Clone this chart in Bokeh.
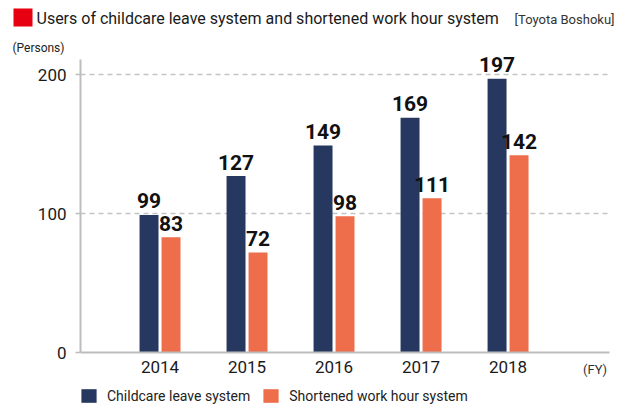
from bokeh.plotting import figure
from bokeh.layouts import column
from bokeh.models import (Range1d, FixedTicker, LinearAxis, Legend, LegendItem,
                          ColumnDataSource)
from bokeh.core.properties import value
from bokeh.embed import file_html
from bokeh.resources import INLINE

years = ["2014", "2015", "2016", "2017", "2018"]
childcare = [99, 127, 149, 169, 197]
shortened = [83, 72, 98, 111, 142]
y_ticks = [0, 100, 200]
series_names = ["Childcare leave system", "Shortened work hour system"]
title_text = "Users of childcare leave system and shortened work hour system"
subtitle_text = "[Toyota Boshoku]"
unit_text = "(Persons)"
fy_text = "(FY)"

FONT = "Roboto"
NAVY = "#26385f"
ORANGE = "#ee6d4a"
RED = "#e60012"
GRAY = "#bdbdbd"
TXT = "#1a1a1a"
W = 630

# ---------------- header (title row) ----------------
head = figure(width=W, height=34, output_backend="svg", toolbar_location=None,
              x_range=Range1d(0, W), y_range=Range1d(34, 0),
              x_axis_type=None, y_axis_type=None, min_border=0, frame_align=False)
head.outline_line_color = None
head.grid.visible = False
head.quad(left=[13], right=[32], top=[8], bottom=[26], fill_color=RED, line_color=None)
head.text(x=[36], y=[18], text=[title_text], text_font=value(FONT), text_font_size="16px",
          text_color=TXT, text_baseline="middle", text_align="left")
head.text(x=[614], y=[18.5], text=[subtitle_text], text_font=value(FONT), text_font_size="13px",
          text_color="#333333", text_baseline="middle", text_align="right")

# ---------------- main chart ----------------
xs = list(range(len(years)))
off = 0.1264
bw = 0.218
src = ColumnDataSource(dict(
    x1=[x - off for x in xs], x2=[x + off for x in xs],
    c=childcare, s=shortened,
    cl=[str(v) for v in childcare], sl=[str(v) for v in shortened],
))

p = figure(width=W, height=350, output_backend="svg", toolbar_location=None,
           x_range=Range1d(-0.914, 5.166), y_range=Range1d(0, 228.9),
           min_border_left=80, min_border_right=21, min_border_top=0, min_border_bottom=32,
           frame_align=False)
p.outline_line_color = None

r1 = p.vbar(x="x1", top="c", width=bw, source=src, fill_color=NAVY, line_color=None)
r2 = p.vbar(x="x2", top="s", width=bw, source=src, fill_color=ORANGE, line_color=None)

p.text(x="x1", y="c", text="cl", source=src, text_font=value(FONT), text_font_style="bold",
       text_font_size="21px", text_align="center", text_baseline="middle",
       y_offset=-14, text_color="#111111")
p.text(x="x2", y="s", text="sl", source=src, text_font=value(FONT), text_font_style="bold",
       text_font_size="21px", text_align="center", text_baseline="middle",
       y_offset=-14, text_color="#111111")

p.xaxis.ticker = FixedTicker(ticks=xs)
p.xaxis.major_label_overrides = {i: y for i, y in enumerate(years)}
p.xaxis.major_tick_line_color = None
p.xaxis.major_tick_out = 0
p.xaxis.major_tick_in = 0
p.xaxis.minor_tick_line_color = None
p.xaxis.axis_line_color = GRAY
p.xaxis.axis_line_width = 2
p.xaxis.major_label_text_font = FONT
p.xaxis.major_label_text_font_size = "17px"
p.xaxis.major_label_text_color = TXT
p.xaxis.major_label_standoff = 8

fy_pos = 5
fy_axis = LinearAxis(ticker=FixedTicker(ticks=[fy_pos]),
                     major_label_overrides={fy_pos: fy_text},
                     axis_line_color=None, major_tick_line_color=None,
                     minor_tick_line_color=None, major_tick_in=0, major_tick_out=0,
                     major_label_standoff=-14, major_label_text_font=FONT,
                     major_label_text_font_size="13px", major_label_text_color="#333333")
p.add_layout(fy_axis, "below")

p.yaxis.ticker = FixedTicker(ticks=y_ticks)
p.yaxis.bounds = (0, 210.8)
p.yaxis.major_tick_line_color = GRAY
p.yaxis.major_tick_line_width = 1.5
p.yaxis.major_tick_in = 0
p.yaxis.major_tick_out = 5
p.yaxis.minor_tick_line_color = None
p.yaxis.axis_line_color = GRAY
p.yaxis.axis_line_width = 2
p.yaxis.major_label_text_font = FONT
p.yaxis.major_label_text_font_size = "17px"
p.yaxis.major_label_text_color = TXT
p.yaxis.major_label_standoff = 9

unit_pos = 219
unit_axis = LinearAxis(ticker=FixedTicker(ticks=[unit_pos]),
                       major_label_overrides={unit_pos: unit_text},
                       axis_line_color=None, major_tick_line_color=None,
                       minor_tick_line_color=None, major_tick_in=0, major_tick_out=0,
                       major_label_standoff=-30, major_label_text_font=FONT,
                       major_label_text_font_size="12px", major_label_text_color="#222222")
p.add_layout(unit_axis, "left")

p.xgrid.grid_line_color = None
p.ygrid.ticker = FixedTicker(ticks=[100, 200])
p.ygrid.grid_line_color = "#c4c4c4"
p.ygrid.grid_line_dash = "5 4"
p.ygrid.grid_line_width = 1.5

# ---------------- footer (legend row) ----------------
foot = figure(width=W, height=23, output_backend="svg", toolbar_location=None,
              x_range=Range1d(0, W), y_range=Range1d(0, 23),
              x_axis_type=None, y_axis_type=None, min_border=0, frame_align=False)
foot.outline_line_color = None
foot.grid.visible = False
# legend swatch renderers (their single point lies outside the visible range)
lr1 = foot.quad(left=[-100], right=[-90], top=[-100], bottom=[-110],
                fill_color=NAVY, line_color=None)
lr2 = foot.quad(left=[-100], right=[-90], top=[-100], bottom=[-110],
                fill_color=ORANGE, line_color=None)
legend = Legend(items=[LegendItem(label=series_names[0], renderers=[lr1]),
                       LegendItem(label=series_names[1], renderers=[lr2])],
                location=(79, 3), orientation="horizontal",
                padding=0, margin=0, spacing=11, label_standoff=9,
                glyph_width=19, glyph_height=17, label_height=17,
                label_text_font=FONT, label_text_font_size="14px",
                label_text_color="#222222", label_text_baseline="middle",
                border_line_color=None, background_fill_alpha=0)
foot.add_layout(legend)

layout = column(head, p, foot, spacing=0)
open("out.html", "w").write(file_html(layout, INLINE))
